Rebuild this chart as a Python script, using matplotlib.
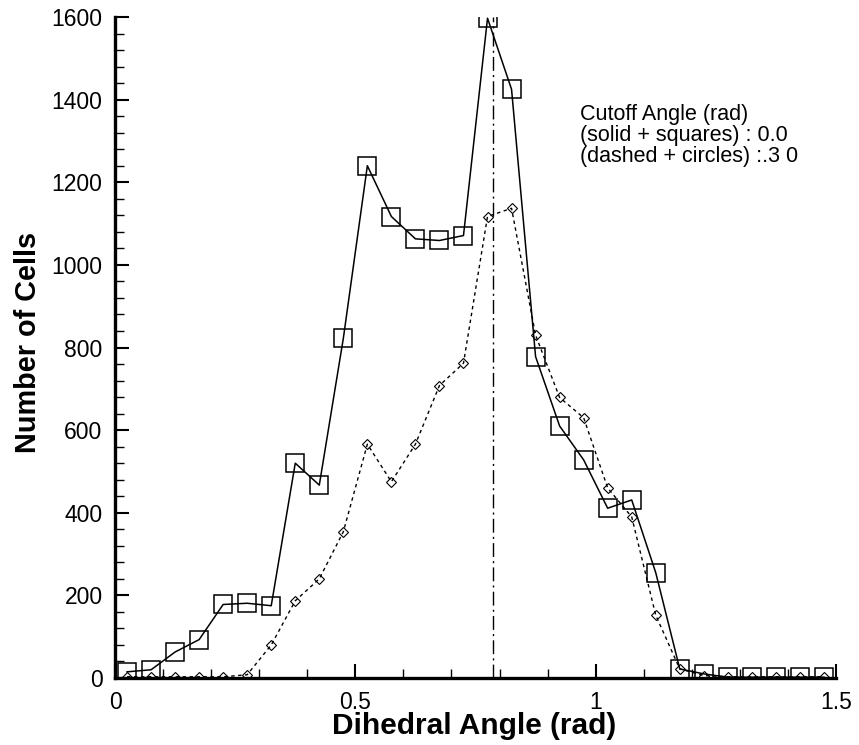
import numpy as np
import matplotlib
matplotlib.use('Agg')
import matplotlib.pyplot as plt
from matplotlib.ticker import MultipleLocator

# bin centres (rad)
angle = [0.025, 0.075, 0.125, 0.175, 0.225, 0.275, 0.325, 0.375, 0.425, 0.475,
         0.525, 0.575, 0.625, 0.675, 0.725, 0.775, 0.825, 0.875, 0.925, 0.975,
         1.025, 1.075, 1.125, 1.175, 1.225, 1.275, 1.325, 1.375, 1.425, 1.475]

# cutoff 0.0 (solid + squares)
cells_cut0 = [15, 20, 63, 93, 178, 181, 175, 520, 467, 822,
              1240, 1117, 1063, 1059, 1071, 1597, 1425, 778, 610, 528,
              411, 431, 255, 22, 10, 2, 2, 2, 2, 2]

# cutoff .30 (dashed + circles)
cells_cut30 = [3, 3, 3, 3, 3, 8, 80, 187, 240, 354,
               566, 475, 566, 708, 762, 1117, 1137, 830, 679, 630,
               460, 390, 152, 22, 6, 3, 3, 3, 3, 3]

ref_angle = np.pi / 4

note = 'Cutoff Angle (rad)\n(solid + squares) : 0.0\n(dashed + circles) :.3 0'

plt.rcParams['font.family'] = ['Liberation Sans', 'DejaVu Sans']

fig = plt.figure(figsize=(8.59, 7.45), dpi=100)
ax = fig.add_axes([0.1339, 0.0899, 0.9732 - 0.1339, 0.9772 - 0.0899])

ax.plot(angle, cells_cut0, color='black', lw=1.1, marker='s', ms=12.5,
        mfc='none', mec='black', mew=1.1)
ax.plot(angle, cells_cut30, color='black', lw=1.0, ls=(0, (2.5, 2.5)),
        marker='D', ms=5, mfc='none', mec='black', mew=0.8)
ax.plot([ref_angle, ref_angle], [0, 1600], color='black', lw=1.0,
        ls=(0, (10, 3, 1.5, 3)))

ax.set_xlim(0, 1.5)
ax.set_ylim(0, 1600)

# axis styling (only left + bottom, inward ticks)
for side in ['top', 'right']:
    ax.spines[side].set_visible(False)
for side in ['left', 'bottom']:
    ax.spines[side].set_linewidth(2.4)

ax.xaxis.set_major_locator(MultipleLocator(0.5))
ax.xaxis.set_minor_locator(MultipleLocator(0.1))
ax.yaxis.set_major_locator(MultipleLocator(200))
ax.yaxis.set_minor_locator(MultipleLocator(40))
ax.tick_params(which='both', direction='in', top=False, right=False,
               labelsize=16.5, pad=9)
ax.tick_params(which='major', length=10, width=1.5)
ax.tick_params(which='minor', length=6.5, width=1.0)
ax.set_xticks([0, 0.5, 1, 1.5])
ax.set_xticklabels(['0', '0.5', '1', '1.5'])

ax.set_xlabel('Dihedral Angle (rad)', fontsize=21.5, fontweight='bold', va='center')
ax.xaxis.set_label_coords(0.498, -0.0726)
ax.set_ylabel('Number of Cells', fontsize=20.8, fontweight='bold', va='center')
ax.yaxis.set_label_coords(-0.121, 0.508)

ax.text(0.967, 1390, note, fontsize=15.5, va='top', ha='left', linespacing=1.0)

plt.savefig('out.png', dpi=100)
